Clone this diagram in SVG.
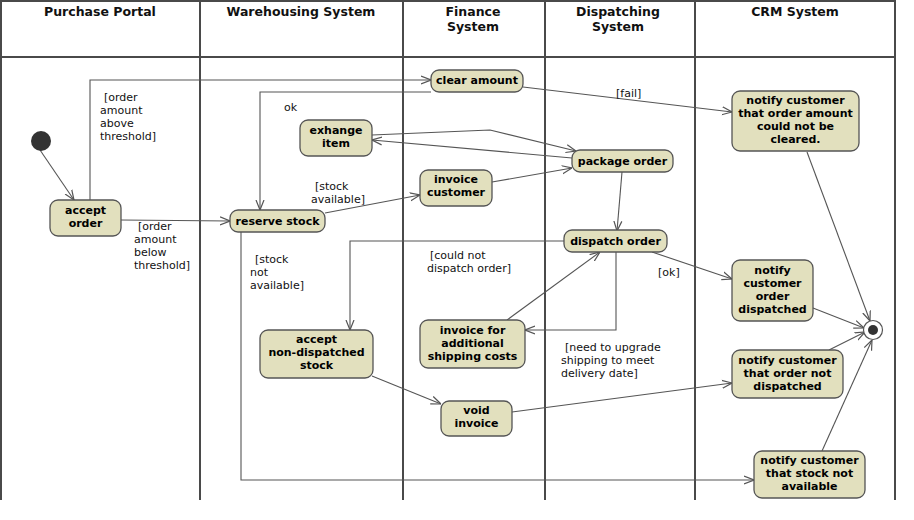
<svg xmlns="http://www.w3.org/2000/svg" width="914" height="520" viewBox="0 0 914 520">
<style>
.lane{stroke:#4a4a4a;stroke-width:2;fill:none}
.hd{font-family:"DejaVu Sans",sans-serif;font-weight:bold;font-size:12.5px;fill:#111;text-anchor:middle}
.nd rect{fill:#e2e0be;stroke:#555;stroke-width:1.3}
.nd text{font-family:"DejaVu Sans",sans-serif;font-weight:bold;font-size:11px;fill:#000;text-anchor:middle}
.c path{fill:none;stroke:#555;stroke-width:1.1;marker-end:url(#a)}
.lb{font-family:"DejaVu Sans",sans-serif;font-size:11px;fill:#111}
</style>
<defs>
<marker id="a" viewBox="0 0 10 10" refX="10" refY="5" markerWidth="10" markerHeight="10" orient="auto" markerUnits="userSpaceOnUse">
<path d="M0,1 L10,5 L0,9" fill="none" stroke="#555" stroke-width="1.2"/>
</marker>
</defs>
<rect width="914" height="520" fill="#fff"/>
<g id="lanes">
<path class="lane" d="M1,500 V1 H895 V500 M1,57 H895 M200,1 V500 M403,1 V500 M545,1 V500 M695,1 V500"/>
<text class="hd" x="100" y="16">Purchase Portal</text>
<text class="hd" x="301" y="16">Warehousing System</text>
<text class="hd" x="473" y="16">Finance</text>
<text class="hd" x="473" y="31">System</text>
<text class="hd" x="618" y="16">Dispatching</text>
<text class="hd" x="618" y="31">System</text>
<text class="hd" x="795" y="16">CRM System</text>
</g>
<g id="connectors" class="c">
<path d="M40,150 L74,200"/>
<path d="M90,200 V80 H431"/>
<path d="M121,220 L230,221"/>
<path d="M431,92 H260 V210"/>
<path d="M523,87 L732,112"/>
<path d="M325,213 L420,195"/>
<path d="M492,182 L572,168"/>
<path d="M372,135 L490,130 L576,151"/>
<path d="M572,158 L372,140"/>
<path d="M622,172 L617,231"/>
<path d="M564,241 H350 V330"/>
<path d="M652,252 L732,279"/>
<path d="M616,252 V330 H525"/>
<path d="M507,320 L600,252"/>
<path d="M372,376 L441,404"/>
<path d="M512,412 L732,383"/>
<path d="M241,232 V480 H754"/>
<path d="M807,152 L870,321"/>
<path d="M813,308 L864,328"/>
<path d="M829,350 L865,332"/>
<path d="M822,451 L872,340"/>
</g>
<g id="labels" class="lb">
<text x="104" y="101">[order</text>
<text x="100" y="114">amount</text>
<text x="100" y="127">above</text>
<text x="100" y="140">threshold]</text>
<text x="138" y="230">[order</text>
<text x="134" y="243">amount</text>
<text x="134" y="256">below</text>
<text x="134" y="269">threshold]</text>
<text x="284" y="111">ok</text>
<text x="616" y="97">[fail]</text>
<text x="315" y="190">[stock</text>
<text x="311" y="203">available]</text>
<text x="255" y="263">[stock</text>
<text x="250" y="276">not</text>
<text x="250" y="289">available]</text>
<text x="430" y="259">[could not</text>
<text x="427" y="272">dispatch order]</text>
<text x="658" y="276">[ok]</text>
<text x="565" y="351">[need to upgrade</text>
<text x="561" y="364">shipping to meet</text>
<text x="561" y="377">delivery date]</text>
</g>
<g id="initial"><circle cx="41" cy="141" r="10" fill="#333"/></g>
<g id="final"><circle cx="873" cy="330" r="9.5" fill="#fff" stroke="#555" stroke-width="1.2"/><circle cx="873" cy="330" r="5" fill="#333"/></g>
<g id="accept-order" class="nd"><rect x="50" y="200" width="71" height="36" rx="8"/><text x="85.5" y="214">accept</text><text x="85.5" y="227">order</text></g>
<g id="reserve-stock" class="nd"><rect x="230" y="210" width="95" height="22" rx="8"/><text x="277.5" y="224.5">reserve stock</text></g>
<g id="clear-amount" class="nd"><rect x="431" y="70" width="92" height="22" rx="8"/><text x="477" y="84">clear amount</text></g>
<g id="exhange-item" class="nd"><rect x="300" y="120" width="72" height="36" rx="8"/><text x="336" y="134">exhange</text><text x="336" y="147">item</text></g>
<g id="invoice-customer" class="nd"><rect x="420" y="170" width="72" height="36" rx="8"/><text x="456" y="183">invoice</text><text x="456" y="196">customer</text></g>
<g id="package-order" class="nd"><rect x="572" y="150" width="101" height="22" rx="8"/><text x="622.5" y="164.5">package order</text></g>
<g id="dispatch-order" class="nd"><rect x="564" y="230" width="103" height="22" rx="8"/><text x="615.5" y="244.5">dispatch order</text></g>
<g id="notify-not-cleared" class="nd"><rect x="732" y="91" width="127" height="60" rx="8"/><text x="795.5" y="104">notify customer</text><text x="795.5" y="117">that order amount</text><text x="795.5" y="130">could not be</text><text x="795.5" y="143">cleared.</text></g>
<g id="notify-dispatched" class="nd"><rect x="732" y="260" width="81" height="61" rx="8"/><text x="772.5" y="274">notify</text><text x="772.5" y="287">customer</text><text x="772.5" y="300">order</text><text x="772.5" y="313">dispatched</text></g>
<g id="notify-not-dispatched" class="nd"><rect x="732" y="350" width="111" height="48" rx="8"/><text x="787.5" y="364">notify customer</text><text x="787.5" y="377">that order not</text><text x="787.5" y="390">dispatched</text></g>
<g id="accept-non-dispatched" class="nd"><rect x="260" y="330" width="113" height="48" rx="8"/><text x="316.5" y="343">accept</text><text x="316.5" y="356">non-dispatched</text><text x="316.5" y="369">stock</text></g>
<g id="invoice-additional" class="nd"><rect x="420" y="320" width="105" height="48" rx="8"/><text x="472.5" y="334">invoice for</text><text x="472.5" y="347">additional</text><text x="472.5" y="360">shipping costs</text></g>
<g id="void-invoice" class="nd"><rect x="441" y="401" width="71" height="35" rx="8"/><text x="476.5" y="414">void</text><text x="476.5" y="427">invoice</text></g>
<g id="notify-stock" class="nd"><rect x="754" y="451" width="111" height="47" rx="8"/><text x="809.5" y="464">notify customer</text><text x="809.5" y="477">that stock not</text><text x="809.5" y="490">available</text></g>
</svg>
